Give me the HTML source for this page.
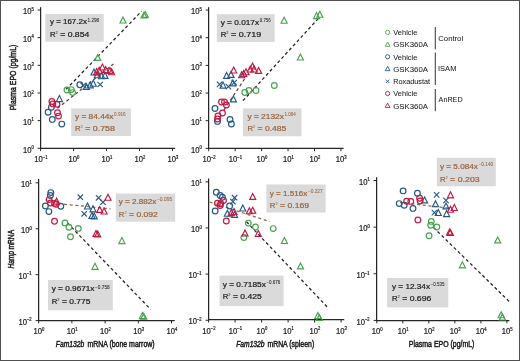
<!DOCTYPE html>
<html><head><meta charset="utf-8"><style>
html,body{margin:0;padding:0;background:#fff;}
svg{display:block;will-change:transform;font-family:"Liberation Sans",sans-serif;}
.t{fill:#1e1e1e;stroke:#1e1e1e;stroke-width:0.22px;}
.b{fill:#9a6440;stroke:#9a6440;stroke-width:0.22px;}
</style></head><body>
<svg width="520" height="361" viewBox="0 0 520 361">
<rect width="520" height="361" fill="#fff"/>
<rect x="0.5" y="0.5" width="519" height="360" fill="none" stroke="#505050" stroke-width="1"/>
<line x1="40.6" y1="7.2" x2="40.6" y2="148.9" stroke="#262626" stroke-width="1.25"/>
<line x1="40.0" y1="148.3" x2="175.2" y2="148.3" stroke="#262626" stroke-width="1.25"/>
<line x1="37.6" y1="148.3" x2="40.6" y2="148.3" stroke="#262626" stroke-width="1.0"/>
<text class="t" transform="translate(33.70,152.50) scale(0.91,1)" text-anchor="end" font-size="8.4">10<tspan font-size="4.6" dy="-3.4">0</tspan></text>
<line x1="37.6" y1="120.64000000000001" x2="40.6" y2="120.64000000000001" stroke="#262626" stroke-width="1.0"/>
<text class="t" transform="translate(33.70,124.84) scale(0.91,1)" text-anchor="end" font-size="8.4">10<tspan font-size="4.6" dy="-3.4">1</tspan></text>
<line x1="37.6" y1="92.98000000000002" x2="40.6" y2="92.98000000000002" stroke="#262626" stroke-width="1.0"/>
<text class="t" transform="translate(33.70,97.18) scale(0.91,1)" text-anchor="end" font-size="8.4">10<tspan font-size="4.6" dy="-3.4">2</tspan></text>
<line x1="37.6" y1="65.32000000000001" x2="40.6" y2="65.32000000000001" stroke="#262626" stroke-width="1.0"/>
<text class="t" transform="translate(33.70,69.52) scale(0.91,1)" text-anchor="end" font-size="8.4">10<tspan font-size="4.6" dy="-3.4">3</tspan></text>
<line x1="37.6" y1="37.66000000000001" x2="40.6" y2="37.66000000000001" stroke="#262626" stroke-width="1.0"/>
<text class="t" transform="translate(33.70,41.86) scale(0.91,1)" text-anchor="end" font-size="8.4">10<tspan font-size="4.6" dy="-3.4">4</tspan></text>
<line x1="37.6" y1="10.0" x2="40.6" y2="10.0" stroke="#262626" stroke-width="1.0"/>
<text class="t" transform="translate(33.70,14.20) scale(0.91,1)" text-anchor="end" font-size="8.4">10<tspan font-size="4.6" dy="-3.4">5</tspan></text>
<line x1="40.6" y1="148.3" x2="40.6" y2="151.10000000000002" stroke="#262626" stroke-width="1.0"/>
<text class="t" transform="translate(40.90,162.20) scale(0.91,1)" text-anchor="middle" font-size="8.4">10<tspan font-size="4.6" dy="-3.4">−1</tspan></text>
<line x1="73.58" y1="148.3" x2="73.58" y2="151.10000000000002" stroke="#262626" stroke-width="1.0"/>
<text class="t" transform="translate(73.88,162.20) scale(0.91,1)" text-anchor="middle" font-size="8.4">10<tspan font-size="4.6" dy="-3.4">0</tspan></text>
<line x1="106.56" y1="148.3" x2="106.56" y2="151.10000000000002" stroke="#262626" stroke-width="1.0"/>
<text class="t" transform="translate(106.86,162.20) scale(0.91,1)" text-anchor="middle" font-size="8.4">10<tspan font-size="4.6" dy="-3.4">1</tspan></text>
<line x1="139.54" y1="148.3" x2="139.54" y2="151.10000000000002" stroke="#262626" stroke-width="1.0"/>
<text class="t" transform="translate(139.84,162.20) scale(0.91,1)" text-anchor="middle" font-size="8.4">10<tspan font-size="4.6" dy="-3.4">2</tspan></text>
<line x1="172.51999999999998" y1="148.3" x2="172.51999999999998" y2="151.10000000000002" stroke="#262626" stroke-width="1.0"/>
<text class="t" transform="translate(172.82,162.20) scale(0.91,1)" text-anchor="middle" font-size="8.4">10<tspan font-size="4.6" dy="-3.4">3</tspan></text>
<line x1="208.6" y1="7.2" x2="208.6" y2="149.0" stroke="#262626" stroke-width="1.25"/>
<line x1="208.0" y1="148.4" x2="343.6" y2="148.4" stroke="#262626" stroke-width="1.25"/>
<line x1="205.6" y1="148.35000000000002" x2="208.6" y2="148.35000000000002" stroke="#262626" stroke-width="1.0"/>
<text class="t" transform="translate(201.70,152.55) scale(0.91,1)" text-anchor="end" font-size="8.4">10<tspan font-size="4.6" dy="-3.4">0</tspan></text>
<line x1="205.6" y1="120.69000000000001" x2="208.6" y2="120.69000000000001" stroke="#262626" stroke-width="1.0"/>
<text class="t" transform="translate(201.70,124.89) scale(0.91,1)" text-anchor="end" font-size="8.4">10<tspan font-size="4.6" dy="-3.4">1</tspan></text>
<line x1="205.6" y1="93.03000000000002" x2="208.6" y2="93.03000000000002" stroke="#262626" stroke-width="1.0"/>
<text class="t" transform="translate(201.70,97.23) scale(0.91,1)" text-anchor="end" font-size="8.4">10<tspan font-size="4.6" dy="-3.4">2</tspan></text>
<line x1="205.6" y1="65.37" x2="208.6" y2="65.37" stroke="#262626" stroke-width="1.0"/>
<text class="t" transform="translate(201.70,69.57) scale(0.91,1)" text-anchor="end" font-size="8.4">10<tspan font-size="4.6" dy="-3.4">3</tspan></text>
<line x1="205.6" y1="37.71000000000001" x2="208.6" y2="37.71000000000001" stroke="#262626" stroke-width="1.0"/>
<text class="t" transform="translate(201.70,41.91) scale(0.91,1)" text-anchor="end" font-size="8.4">10<tspan font-size="4.6" dy="-3.4">4</tspan></text>
<line x1="205.6" y1="10.05" x2="208.6" y2="10.05" stroke="#262626" stroke-width="1.0"/>
<text class="t" transform="translate(201.70,14.25) scale(0.91,1)" text-anchor="end" font-size="8.4">10<tspan font-size="4.6" dy="-3.4">5</tspan></text>
<line x1="208.7" y1="148.4" x2="208.7" y2="151.20000000000002" stroke="#262626" stroke-width="1.0"/>
<text class="t" transform="translate(209.00,162.30) scale(0.91,1)" text-anchor="middle" font-size="8.4">10<tspan font-size="4.6" dy="-3.4">−2</tspan></text>
<line x1="235.14999999999998" y1="148.4" x2="235.14999999999998" y2="151.20000000000002" stroke="#262626" stroke-width="1.0"/>
<text class="t" transform="translate(235.45,162.30) scale(0.91,1)" text-anchor="middle" font-size="8.4">10<tspan font-size="4.6" dy="-3.4">−1</tspan></text>
<line x1="261.59999999999997" y1="148.4" x2="261.59999999999997" y2="151.20000000000002" stroke="#262626" stroke-width="1.0"/>
<text class="t" transform="translate(261.90,162.30) scale(0.91,1)" text-anchor="middle" font-size="8.4">10<tspan font-size="4.6" dy="-3.4">0</tspan></text>
<line x1="288.04999999999995" y1="148.4" x2="288.04999999999995" y2="151.20000000000002" stroke="#262626" stroke-width="1.0"/>
<text class="t" transform="translate(288.35,162.30) scale(0.91,1)" text-anchor="middle" font-size="8.4">10<tspan font-size="4.6" dy="-3.4">1</tspan></text>
<line x1="314.5" y1="148.4" x2="314.5" y2="151.20000000000002" stroke="#262626" stroke-width="1.0"/>
<text class="t" transform="translate(314.80,162.30) scale(0.91,1)" text-anchor="middle" font-size="8.4">10<tspan font-size="4.6" dy="-3.4">2</tspan></text>
<line x1="340.95" y1="148.4" x2="340.95" y2="151.20000000000002" stroke="#262626" stroke-width="1.0"/>
<text class="t" transform="translate(341.25,162.30) scale(0.91,1)" text-anchor="middle" font-size="8.4">10<tspan font-size="4.6" dy="-3.4">3</tspan></text>
<line x1="38.6" y1="178.9" x2="38.6" y2="321.1" stroke="#262626" stroke-width="1.25"/>
<line x1="38.0" y1="320.5" x2="174.7" y2="320.5" stroke="#262626" stroke-width="1.25"/>
<line x1="35.6" y1="320.61" x2="38.6" y2="320.61" stroke="#262626" stroke-width="1.0"/>
<text class="t" transform="translate(31.70,324.81) scale(0.91,1)" text-anchor="end" font-size="8.4">10<tspan font-size="4.6" dy="-3.4">−2</tspan></text>
<line x1="35.6" y1="274.68" x2="38.6" y2="274.68" stroke="#262626" stroke-width="1.0"/>
<text class="t" transform="translate(31.70,278.88) scale(0.91,1)" text-anchor="end" font-size="8.4">10<tspan font-size="4.6" dy="-3.4">−1</tspan></text>
<line x1="35.6" y1="228.75" x2="38.6" y2="228.75" stroke="#262626" stroke-width="1.0"/>
<text class="t" transform="translate(31.70,232.95) scale(0.91,1)" text-anchor="end" font-size="8.4">10<tspan font-size="4.6" dy="-3.4">0</tspan></text>
<line x1="35.6" y1="182.82" x2="38.6" y2="182.82" stroke="#262626" stroke-width="1.0"/>
<text class="t" transform="translate(31.70,187.02) scale(0.91,1)" text-anchor="end" font-size="8.4">10<tspan font-size="4.6" dy="-3.4">1</tspan></text>
<line x1="38.7" y1="320.5" x2="38.7" y2="323.3" stroke="#262626" stroke-width="1.0"/>
<text class="t" transform="translate(39.00,334.40) scale(0.91,1)" text-anchor="middle" font-size="8.4">10<tspan font-size="4.6" dy="-3.4">0</tspan></text>
<line x1="71.9" y1="320.5" x2="71.9" y2="323.3" stroke="#262626" stroke-width="1.0"/>
<text class="t" transform="translate(72.20,334.40) scale(0.91,1)" text-anchor="middle" font-size="8.4">10<tspan font-size="4.6" dy="-3.4">1</tspan></text>
<line x1="105.10000000000001" y1="320.5" x2="105.10000000000001" y2="323.3" stroke="#262626" stroke-width="1.0"/>
<text class="t" transform="translate(105.40,334.40) scale(0.91,1)" text-anchor="middle" font-size="8.4">10<tspan font-size="4.6" dy="-3.4">2</tspan></text>
<line x1="138.3" y1="320.5" x2="138.3" y2="323.3" stroke="#262626" stroke-width="1.0"/>
<text class="t" transform="translate(138.60,334.40) scale(0.91,1)" text-anchor="middle" font-size="8.4">10<tspan font-size="4.6" dy="-3.4">3</tspan></text>
<line x1="171.5" y1="320.5" x2="171.5" y2="323.3" stroke="#262626" stroke-width="1.0"/>
<text class="t" transform="translate(171.80,334.40) scale(0.91,1)" text-anchor="middle" font-size="8.4">10<tspan font-size="4.6" dy="-3.4">4</tspan></text>
<line x1="208.6" y1="178.5" x2="208.6" y2="320.3" stroke="#262626" stroke-width="1.25"/>
<line x1="208.0" y1="319.7" x2="344.2" y2="319.7" stroke="#262626" stroke-width="1.25"/>
<line x1="205.6" y1="320.25" x2="208.6" y2="320.25" stroke="#262626" stroke-width="1.0"/>
<text class="t" transform="translate(201.70,324.45) scale(0.91,1)" text-anchor="end" font-size="8.4">10<tspan font-size="4.6" dy="-3.4">−2</tspan></text>
<line x1="205.6" y1="274.09999999999997" x2="208.6" y2="274.09999999999997" stroke="#262626" stroke-width="1.0"/>
<text class="t" transform="translate(201.70,278.30) scale(0.91,1)" text-anchor="end" font-size="8.4">10<tspan font-size="4.6" dy="-3.4">−1</tspan></text>
<line x1="205.6" y1="227.95" x2="208.6" y2="227.95" stroke="#262626" stroke-width="1.0"/>
<text class="t" transform="translate(201.70,232.15) scale(0.91,1)" text-anchor="end" font-size="8.4">10<tspan font-size="4.6" dy="-3.4">0</tspan></text>
<line x1="205.6" y1="181.79999999999998" x2="208.6" y2="181.79999999999998" stroke="#262626" stroke-width="1.0"/>
<text class="t" transform="translate(201.70,186.00) scale(0.91,1)" text-anchor="end" font-size="8.4">10<tspan font-size="4.6" dy="-3.4">1</tspan></text>
<line x1="208.6" y1="319.7" x2="208.6" y2="322.5" stroke="#262626" stroke-width="1.0"/>
<text class="t" transform="translate(208.90,333.60) scale(0.91,1)" text-anchor="middle" font-size="8.4">10<tspan font-size="4.6" dy="-3.4">−2</tspan></text>
<line x1="235.1" y1="319.7" x2="235.1" y2="322.5" stroke="#262626" stroke-width="1.0"/>
<text class="t" transform="translate(235.40,333.60) scale(0.91,1)" text-anchor="middle" font-size="8.4">10<tspan font-size="4.6" dy="-3.4">−1</tspan></text>
<line x1="261.6" y1="319.7" x2="261.6" y2="322.5" stroke="#262626" stroke-width="1.0"/>
<text class="t" transform="translate(261.90,333.60) scale(0.91,1)" text-anchor="middle" font-size="8.4">10<tspan font-size="4.6" dy="-3.4">0</tspan></text>
<line x1="288.1" y1="319.7" x2="288.1" y2="322.5" stroke="#262626" stroke-width="1.0"/>
<text class="t" transform="translate(288.40,333.60) scale(0.91,1)" text-anchor="middle" font-size="8.4">10<tspan font-size="4.6" dy="-3.4">1</tspan></text>
<line x1="314.6" y1="319.7" x2="314.6" y2="322.5" stroke="#262626" stroke-width="1.0"/>
<text class="t" transform="translate(314.90,333.60) scale(0.91,1)" text-anchor="middle" font-size="8.4">10<tspan font-size="4.6" dy="-3.4">2</tspan></text>
<line x1="341.1" y1="319.7" x2="341.1" y2="322.5" stroke="#262626" stroke-width="1.0"/>
<text class="t" transform="translate(341.40,333.60) scale(0.91,1)" text-anchor="middle" font-size="8.4">10<tspan font-size="4.6" dy="-3.4">3</tspan></text>
<line x1="376.6" y1="177.2" x2="376.6" y2="321.1" stroke="#262626" stroke-width="1.25"/>
<line x1="376.0" y1="320.5" x2="509.4" y2="320.5" stroke="#262626" stroke-width="1.25"/>
<line x1="373.6" y1="320.41" x2="376.6" y2="320.41" stroke="#262626" stroke-width="1.0"/>
<text class="t" transform="translate(369.70,324.61) scale(0.91,1)" text-anchor="end" font-size="8.4">10<tspan font-size="4.6" dy="-3.4">−2</tspan></text>
<line x1="373.6" y1="273.78000000000003" x2="376.6" y2="273.78000000000003" stroke="#262626" stroke-width="1.0"/>
<text class="t" transform="translate(369.70,277.98) scale(0.91,1)" text-anchor="end" font-size="8.4">10<tspan font-size="4.6" dy="-3.4">−1</tspan></text>
<line x1="373.6" y1="227.15" x2="376.6" y2="227.15" stroke="#262626" stroke-width="1.0"/>
<text class="t" transform="translate(369.70,231.35) scale(0.91,1)" text-anchor="end" font-size="8.4">10<tspan font-size="4.6" dy="-3.4">0</tspan></text>
<line x1="373.6" y1="180.52" x2="376.6" y2="180.52" stroke="#262626" stroke-width="1.0"/>
<text class="t" transform="translate(369.70,184.72) scale(0.91,1)" text-anchor="end" font-size="8.4">10<tspan font-size="4.6" dy="-3.4">1</tspan></text>
<line x1="376.8" y1="320.5" x2="376.8" y2="323.3" stroke="#262626" stroke-width="1.0"/>
<text class="t" transform="translate(377.10,334.40) scale(0.91,1)" text-anchor="middle" font-size="8.4">10<tspan font-size="4.6" dy="-3.4">0</tspan></text>
<line x1="402.82" y1="320.5" x2="402.82" y2="323.3" stroke="#262626" stroke-width="1.0"/>
<text class="t" transform="translate(403.12,334.40) scale(0.91,1)" text-anchor="middle" font-size="8.4">10<tspan font-size="4.6" dy="-3.4">1</tspan></text>
<line x1="428.84000000000003" y1="320.5" x2="428.84000000000003" y2="323.3" stroke="#262626" stroke-width="1.0"/>
<text class="t" transform="translate(429.14,334.40) scale(0.91,1)" text-anchor="middle" font-size="8.4">10<tspan font-size="4.6" dy="-3.4">2</tspan></text>
<line x1="454.86" y1="320.5" x2="454.86" y2="323.3" stroke="#262626" stroke-width="1.0"/>
<text class="t" transform="translate(455.16,334.40) scale(0.91,1)" text-anchor="middle" font-size="8.4">10<tspan font-size="4.6" dy="-3.4">3</tspan></text>
<line x1="480.88" y1="320.5" x2="480.88" y2="323.3" stroke="#262626" stroke-width="1.0"/>
<text class="t" transform="translate(481.18,334.40) scale(0.91,1)" text-anchor="middle" font-size="8.4">10<tspan font-size="4.6" dy="-3.4">4</tspan></text>
<line x1="506.9" y1="320.5" x2="506.9" y2="323.3" stroke="#262626" stroke-width="1.0"/>
<text class="t" transform="translate(507.20,334.40) scale(0.91,1)" text-anchor="middle" font-size="8.4">10<tspan font-size="4.6" dy="-3.4">5</tspan></text>
<rect x="45.4" y="14.0" width="58.3" height="27.7" fill="#dadada"/>
<text class="t" x="50" y="24.3" font-size="7.7" textLength="36.9" lengthAdjust="spacingAndGlyphs">y = 167.2x</text>
<text class="t" x="87.5" y="21.7" font-size="4.5" style="stroke-width:0.05px" textLength="11.7" lengthAdjust="spacingAndGlyphs">1.298</text>
<text class="t" x="50" y="37.0" font-size="7.7">R</text>
<text class="t" x="55.6" y="34.0" font-size="3.9" style="stroke-width:0.05px">2</text>
<text class="t" x="60.2" y="37.0" font-size="7.7" textLength="29.1" lengthAdjust="spacingAndGlyphs">= 0.854</text>
<rect x="71.2" y="108.4" width="59.6" height="27.6" fill="#dadada"/>
<text class="b" x="75" y="118.9" font-size="7.7" textLength="38.5" lengthAdjust="spacingAndGlyphs">y = 84.44x</text>
<text class="b" x="114.1" y="116.3" font-size="4.5" style="stroke-width:0.05px" textLength="11.5" lengthAdjust="spacingAndGlyphs">0.916</text>
<text class="b" x="75" y="131.4" font-size="7.7">R</text>
<text class="b" x="80.6" y="128.4" font-size="3.9" style="stroke-width:0.05px">2</text>
<text class="b" x="85.2" y="131.4" font-size="7.7" textLength="29.8" lengthAdjust="spacingAndGlyphs">= 0.758</text>
<rect x="216.8" y="14.2" width="57.8" height="27.7" fill="#dadada"/>
<text class="t" x="220.7" y="24.5" font-size="7.7" textLength="38.4" lengthAdjust="spacingAndGlyphs">y = 0.017x</text>
<text class="t" x="259.7" y="21.9" font-size="4.5" style="stroke-width:0.05px" textLength="11.1" lengthAdjust="spacingAndGlyphs">0.756</text>
<text class="t" x="220.7" y="37.0" font-size="7.7">R</text>
<text class="t" x="226.3" y="34.0" font-size="3.9" style="stroke-width:0.05px">2</text>
<text class="t" x="230.9" y="37.0" font-size="7.7" textLength="30.3" lengthAdjust="spacingAndGlyphs">= 0.719</text>
<rect x="242.9" y="108.4" width="58.6" height="27.9" fill="#dadada"/>
<text class="b" x="247.4" y="118.9" font-size="7.7" textLength="36.5" lengthAdjust="spacingAndGlyphs">y = 2132x</text>
<text class="b" x="284.5" y="116.3" font-size="4.5" style="stroke-width:0.05px" textLength="11.3" lengthAdjust="spacingAndGlyphs">1.084</text>
<text class="b" x="247.4" y="131.4" font-size="7.7">R</text>
<text class="b" x="253.0" y="128.4" font-size="3.9" style="stroke-width:0.05px">2</text>
<text class="b" x="257.6" y="131.4" font-size="7.7" textLength="28.7" lengthAdjust="spacingAndGlyphs">= 0.485</text>
<rect x="115.8" y="193.6" width="59.4" height="28.1" fill="#dadada"/>
<text class="b" x="118.8" y="204.0" font-size="7.7" textLength="37.5" lengthAdjust="spacingAndGlyphs">y = 2.882x</text>
<text class="b" x="156.9" y="201.4" font-size="4.5" style="stroke-width:0.05px" textLength="15.3" lengthAdjust="spacingAndGlyphs">−0.095</text>
<text class="b" x="118.8" y="216.8" font-size="7.7">R</text>
<text class="b" x="124.4" y="213.8" font-size="3.9" style="stroke-width:0.05px">2</text>
<text class="b" x="129.0" y="216.8" font-size="7.7" textLength="28.9" lengthAdjust="spacingAndGlyphs">= 0.092</text>
<rect x="48" y="280" width="64.8" height="30.3" fill="#dadada"/>
<text class="t" x="51.7" y="291.2" font-size="7.7" textLength="42.8" lengthAdjust="spacingAndGlyphs">y = 0.9671x</text>
<text class="t" x="95.1" y="288.6" font-size="4.5" style="stroke-width:0.05px" textLength="14.6" lengthAdjust="spacingAndGlyphs">−0.758</text>
<text class="t" x="51.7" y="303.6" font-size="7.7">R</text>
<text class="t" x="57.3" y="300.6" font-size="3.9" style="stroke-width:0.05px">2</text>
<text class="t" x="61.9" y="303.6" font-size="7.7" textLength="28.5" lengthAdjust="spacingAndGlyphs">= 0.775</text>
<rect x="266.4" y="184.5" width="59.2" height="28.0" fill="#dadada"/>
<text class="b" x="269.8" y="195.6" font-size="7.7" textLength="37.5" lengthAdjust="spacingAndGlyphs">y = 1.516x</text>
<text class="b" x="307.9" y="193.0" font-size="4.5" style="stroke-width:0.05px" textLength="14.7" lengthAdjust="spacingAndGlyphs">−0.227</text>
<text class="b" x="269.8" y="208.3" font-size="7.7">R</text>
<text class="b" x="275.4" y="205.3" font-size="3.9" style="stroke-width:0.05px">2</text>
<text class="b" x="280.0" y="208.3" font-size="7.7" textLength="29.1" lengthAdjust="spacingAndGlyphs">= 0.169</text>
<rect x="219.5" y="275.6" width="64.1" height="30.5" fill="#dadada"/>
<text class="t" x="222.7" y="286.9" font-size="7.7" textLength="43.1" lengthAdjust="spacingAndGlyphs">y = 0.7185x</text>
<text class="t" x="266.4" y="284.3" font-size="4.5" style="stroke-width:0.05px" textLength="14.0" lengthAdjust="spacingAndGlyphs">−0.676</text>
<text class="t" x="222.7" y="299.2" font-size="7.7">R</text>
<text class="t" x="228.3" y="296.2" font-size="3.9" style="stroke-width:0.05px">2</text>
<text class="t" x="232.9" y="299.2" font-size="7.7" textLength="28.8" lengthAdjust="spacingAndGlyphs">= 0.425</text>
<rect x="436.8" y="157.8" width="59.0" height="28.5" fill="#dadada"/>
<text class="b" x="439.9" y="169.0" font-size="7.7" textLength="38.0" lengthAdjust="spacingAndGlyphs">y = 5.084x</text>
<text class="b" x="478.5" y="166.4" font-size="4.5" style="stroke-width:0.05px" textLength="14.7" lengthAdjust="spacingAndGlyphs">−0.140</text>
<text class="b" x="439.9" y="181.6" font-size="7.7">R</text>
<text class="b" x="445.5" y="178.6" font-size="3.9" style="stroke-width:0.05px">2</text>
<text class="b" x="450.1" y="181.6" font-size="7.7" textLength="29.6" lengthAdjust="spacingAndGlyphs">= 0.203</text>
<rect x="387.1" y="278" width="61.2" height="29.4" fill="#dadada"/>
<text class="t" x="392" y="289.0" font-size="7.7" textLength="38.0" lengthAdjust="spacingAndGlyphs">y = 12.34x</text>
<text class="t" x="430.6" y="286.4" font-size="4.5" style="stroke-width:0.05px" textLength="13.8" lengthAdjust="spacingAndGlyphs">−0.535</text>
<text class="t" x="392" y="301.1" font-size="7.7">R</text>
<text class="t" x="397.6" y="298.1" font-size="3.9" style="stroke-width:0.05px">2</text>
<text class="t" x="402.2" y="301.1" font-size="7.7" textLength="29.1" lengthAdjust="spacingAndGlyphs">= 0.696</text>
<line x1="66" y1="89.4" x2="141.6" y2="11.2" stroke="#222" stroke-width="1.25" stroke-dasharray="3.1 2.6"/>
<line x1="57.5" y1="108.2" x2="113.5" y2="64" stroke="#5e4436" stroke-width="1.25" stroke-dasharray="3.1 2.6"/>
<line x1="243" y1="100.7" x2="318.5" y2="18.3" stroke="#222" stroke-width="1.25" stroke-dasharray="3.1 2.6"/>
<line x1="224" y1="110" x2="246.5" y2="76" stroke="#5e4436" stroke-width="1.25" stroke-dasharray="3.1 2.6"/>
<line x1="64" y1="204.2" x2="110.5" y2="208.9" stroke="#8c6a50" stroke-width="1.25" stroke-dasharray="3.1 2.6"/>
<line x1="67.5" y1="223" x2="150.7" y2="309.5" stroke="#222" stroke-width="1.25" stroke-dasharray="3.1 2.6"/>
<line x1="209.5" y1="202" x2="269.5" y2="221.5" stroke="#8c6a50" stroke-width="1.25" stroke-dasharray="3.1 2.6"/>
<line x1="246.5" y1="221.8" x2="327" y2="306.7" stroke="#222" stroke-width="1.25" stroke-dasharray="3.1 2.6"/>
<line x1="400" y1="202.6" x2="452" y2="208.4" stroke="#8c6a50" stroke-width="1.25" stroke-dasharray="3.1 2.6"/>
<line x1="433.5" y1="227.5" x2="510.3" y2="302.6" stroke="#222" stroke-width="1.25" stroke-dasharray="3.1 2.6"/>
<circle cx="67" cy="90" r="2.85" fill="none" stroke="#4aa350" stroke-width="1.2"/>
<circle cx="71.3" cy="89.6" r="2.85" fill="none" stroke="#4aa350" stroke-width="1.2"/>
<circle cx="72.6" cy="92.6" r="2.85" fill="none" stroke="#4aa350" stroke-width="1.2"/>
<path d="M97.70 54.40L100.75 60.40L94.65 60.40Z" fill="none" stroke="#4aa350" stroke-width="1.15" stroke-linejoin="miter"/>
<path d="M123.00 17.00L126.05 23.00L119.95 23.00Z" fill="none" stroke="#4aa350" stroke-width="1.15" stroke-linejoin="miter"/>
<path d="M144.00 12.00L147.05 18.00L140.95 18.00Z" fill="none" stroke="#4aa350" stroke-width="1.15" stroke-linejoin="miter"/>
<path d="M145.30 11.40L148.35 17.40L142.25 17.40Z" fill="none" stroke="#4aa350" stroke-width="1.15" stroke-linejoin="miter"/>
<circle cx="51.4" cy="107.2" r="2.85" fill="none" stroke="#265a84" stroke-width="1.2"/>
<circle cx="48.1" cy="112.3" r="2.85" fill="none" stroke="#265a84" stroke-width="1.2"/>
<circle cx="52.3" cy="119.4" r="2.85" fill="none" stroke="#265a84" stroke-width="1.2"/>
<circle cx="61.8" cy="124.1" r="2.85" fill="none" stroke="#265a84" stroke-width="1.2"/>
<circle cx="79.8" cy="84.7" r="2.85" fill="none" stroke="#265a84" stroke-width="1.2"/>
<path d="M59.40 95.60L62.45 101.60L56.35 101.60Z" fill="none" stroke="#265a84" stroke-width="1.15" stroke-linejoin="miter"/>
<path d="M93.30 80.20L96.35 86.20L90.25 86.20Z" fill="none" stroke="#265a84" stroke-width="1.15" stroke-linejoin="miter"/>
<path d="M90.20 81.90L93.25 87.90L87.15 87.90Z" fill="none" stroke="#265a84" stroke-width="1.15" stroke-linejoin="miter"/>
<path d="M86.40 83.40L89.45 89.40L83.35 89.40Z" fill="none" stroke="#265a84" stroke-width="1.15" stroke-linejoin="miter"/>
<path d="M94.00 69.00L97.05 75.00L90.95 75.00Z" fill="none" stroke="#265a84" stroke-width="1.15" stroke-linejoin="miter"/>
<path d="M97.30 71.70L100.35 77.70L94.25 77.70Z" fill="none" stroke="#265a84" stroke-width="1.15" stroke-linejoin="miter"/>
<path d="M101.60 72.70L104.65 78.70L98.55 78.70Z" fill="none" stroke="#265a84" stroke-width="1.15" stroke-linejoin="miter"/>
<path d="M105.00 72.40L108.05 78.40L101.95 78.40Z" fill="none" stroke="#265a84" stroke-width="1.15" stroke-linejoin="miter"/>
<path d="M97.50 81.80L102.90 87.20M102.90 81.80L97.50 87.20" stroke="#265a84" stroke-width="1.15"/>
<path d="M80.50 82.80L85.90 88.20M85.90 82.80L80.50 88.20" stroke="#265a84" stroke-width="1.15"/>
<circle cx="51.9" cy="101.5" r="2.85" fill="none" stroke="#c21a40" stroke-width="1.2"/>
<circle cx="52.8" cy="103.9" r="2.85" fill="none" stroke="#c21a40" stroke-width="1.2"/>
<circle cx="57" cy="104.3" r="2.85" fill="none" stroke="#c21a40" stroke-width="1.2"/>
<circle cx="57.5" cy="112.8" r="2.85" fill="none" stroke="#c21a40" stroke-width="1.2"/>
<circle cx="58.5" cy="116.1" r="2.85" fill="none" stroke="#c21a40" stroke-width="1.2"/>
<path d="M102.40 64.00L105.45 70.00L99.35 70.00Z" fill="none" stroke="#c21a40" stroke-width="1.15" stroke-linejoin="miter"/>
<path d="M105.60 66.60L108.65 72.60L102.55 72.60Z" fill="none" stroke="#c21a40" stroke-width="1.15" stroke-linejoin="miter"/>
<path d="M109.90 67.40L112.95 73.40L106.85 73.40Z" fill="none" stroke="#c21a40" stroke-width="1.15" stroke-linejoin="miter"/>
<path d="M99.20 67.20L102.25 73.20L96.15 73.20Z" fill="none" stroke="#c21a40" stroke-width="1.15" stroke-linejoin="miter"/>
<path d="M96.70 68.60L99.75 74.60L93.65 74.60Z" fill="none" stroke="#c21a40" stroke-width="1.15" stroke-linejoin="miter"/>
<path d="M111.60 68.70L114.65 74.70L108.55 74.70Z" fill="none" stroke="#c21a40" stroke-width="1.15" stroke-linejoin="miter"/>
<circle cx="244.8" cy="92.5" r="2.85" fill="none" stroke="#4aa350" stroke-width="1.2"/>
<circle cx="249" cy="90.5" r="2.85" fill="none" stroke="#4aa350" stroke-width="1.2"/>
<circle cx="256" cy="90.5" r="2.85" fill="none" stroke="#4aa350" stroke-width="1.2"/>
<circle cx="274.3" cy="85.5" r="2.85" fill="none" stroke="#4aa350" stroke-width="1.2"/>
<path d="M284.10 17.20L287.15 23.20L281.05 23.20Z" fill="none" stroke="#4aa350" stroke-width="1.15" stroke-linejoin="miter"/>
<path d="M316.60 12.60L319.65 18.60L313.55 18.60Z" fill="none" stroke="#4aa350" stroke-width="1.15" stroke-linejoin="miter"/>
<path d="M319.80 11.20L322.85 17.20L316.75 17.20Z" fill="none" stroke="#4aa350" stroke-width="1.15" stroke-linejoin="miter"/>
<path d="M300.40 54.00L303.45 60.00L297.35 60.00Z" fill="none" stroke="#4aa350" stroke-width="1.15" stroke-linejoin="miter"/>
<circle cx="215" cy="108.5" r="2.85" fill="none" stroke="#265a84" stroke-width="1.2"/>
<circle cx="217.5" cy="121.4" r="2.85" fill="none" stroke="#265a84" stroke-width="1.2"/>
<circle cx="230" cy="119.4" r="2.85" fill="none" stroke="#265a84" stroke-width="1.2"/>
<circle cx="231.4" cy="124" r="2.85" fill="none" stroke="#265a84" stroke-width="1.2"/>
<path d="M233.40 95.90L236.45 101.90L230.35 101.90Z" fill="none" stroke="#265a84" stroke-width="1.15" stroke-linejoin="miter"/>
<path d="M226.60 72.40L229.65 78.40L223.55 78.40Z" fill="none" stroke="#265a84" stroke-width="1.15" stroke-linejoin="miter"/>
<path d="M231.00 71.40L234.05 77.40L227.95 77.40Z" fill="none" stroke="#265a84" stroke-width="1.15" stroke-linejoin="miter"/>
<path d="M223.00 82.10L226.05 88.10L219.95 88.10Z" fill="none" stroke="#265a84" stroke-width="1.15" stroke-linejoin="miter"/>
<path d="M232.80 79.90L235.85 85.90L229.75 85.90Z" fill="none" stroke="#265a84" stroke-width="1.15" stroke-linejoin="miter"/>
<path d="M241.70 71.70L244.75 77.70L238.65 77.70Z" fill="none" stroke="#265a84" stroke-width="1.15" stroke-linejoin="miter"/>
<path d="M216.80 81.70L222.20 87.10M222.20 81.70L216.80 87.10" stroke="#265a84" stroke-width="1.15"/>
<path d="M225.70 83.90L231.10 89.30M231.10 83.90L225.70 89.30" stroke="#265a84" stroke-width="1.15"/>
<path d="M231.50 79.90L236.90 85.30M236.90 79.90L231.50 85.30" stroke="#265a84" stroke-width="1.15"/>
<circle cx="221.5" cy="102" r="2.85" fill="none" stroke="#c21a40" stroke-width="1.2"/>
<circle cx="224.5" cy="102" r="2.85" fill="none" stroke="#c21a40" stroke-width="1.2"/>
<circle cx="226.4" cy="105" r="2.85" fill="none" stroke="#c21a40" stroke-width="1.2"/>
<circle cx="222.5" cy="113" r="2.85" fill="none" stroke="#c21a40" stroke-width="1.2"/>
<circle cx="218" cy="116" r="2.85" fill="none" stroke="#c21a40" stroke-width="1.2"/>
<circle cx="217.5" cy="119" r="2.85" fill="none" stroke="#c21a40" stroke-width="1.2"/>
<path d="M233.70 67.00L236.75 73.00L230.65 73.00Z" fill="none" stroke="#c21a40" stroke-width="1.15" stroke-linejoin="miter"/>
<path d="M252.60 63.00L255.65 69.00L249.55 69.00Z" fill="none" stroke="#c21a40" stroke-width="1.15" stroke-linejoin="miter"/>
<path d="M250.30 66.00L253.35 72.00L247.25 72.00Z" fill="none" stroke="#c21a40" stroke-width="1.15" stroke-linejoin="miter"/>
<path d="M254.00 66.00L257.05 72.00L250.95 72.00Z" fill="none" stroke="#c21a40" stroke-width="1.15" stroke-linejoin="miter"/>
<path d="M258.60 67.40L261.65 73.40L255.55 73.40Z" fill="none" stroke="#c21a40" stroke-width="1.15" stroke-linejoin="miter"/>
<path d="M246.00 68.70L249.05 74.70L242.95 74.70Z" fill="none" stroke="#c21a40" stroke-width="1.15" stroke-linejoin="miter"/>
<path d="M243.70 70.40L246.75 76.40L240.65 76.40Z" fill="none" stroke="#c21a40" stroke-width="1.15" stroke-linejoin="miter"/>
<circle cx="65" cy="222.9" r="2.85" fill="none" stroke="#4aa350" stroke-width="1.2"/>
<circle cx="68.9" cy="227.3" r="2.85" fill="none" stroke="#4aa350" stroke-width="1.2"/>
<circle cx="78.3" cy="228.4" r="2.85" fill="none" stroke="#4aa350" stroke-width="1.2"/>
<circle cx="70.5" cy="236.7" r="2.85" fill="none" stroke="#4aa350" stroke-width="1.2"/>
<path d="M121.90 237.60L124.95 243.60L118.85 243.60Z" fill="none" stroke="#4aa350" stroke-width="1.15" stroke-linejoin="miter"/>
<path d="M95.00 263.30L98.05 269.30L91.95 269.30Z" fill="none" stroke="#4aa350" stroke-width="1.15" stroke-linejoin="miter"/>
<path d="M142.40 312.60L145.45 318.60L139.35 318.60Z" fill="none" stroke="#4aa350" stroke-width="1.15" stroke-linejoin="miter"/>
<path d="M143.70 313.20L146.75 319.20L140.65 319.20Z" fill="none" stroke="#4aa350" stroke-width="1.15" stroke-linejoin="miter"/>
<circle cx="50.8" cy="192.6" r="2.85" fill="none" stroke="#265a84" stroke-width="1.2"/>
<circle cx="50.4" cy="195.5" r="2.85" fill="none" stroke="#265a84" stroke-width="1.2"/>
<circle cx="45.4" cy="205.9" r="2.85" fill="none" stroke="#265a84" stroke-width="1.2"/>
<circle cx="48.9" cy="211.6" r="2.85" fill="none" stroke="#265a84" stroke-width="1.2"/>
<circle cx="60.8" cy="206.3" r="2.85" fill="none" stroke="#265a84" stroke-width="1.2"/>
<path d="M87.50 203.00L90.55 209.00L84.45 209.00Z" fill="none" stroke="#265a84" stroke-width="1.15" stroke-linejoin="miter"/>
<path d="M93.00 205.80L96.05 211.80L89.95 211.80Z" fill="none" stroke="#265a84" stroke-width="1.15" stroke-linejoin="miter"/>
<path d="M92.00 212.40L95.05 218.40L88.95 218.40Z" fill="none" stroke="#265a84" stroke-width="1.15" stroke-linejoin="miter"/>
<path d="M94.20 213.00L97.25 219.00L91.15 219.00Z" fill="none" stroke="#265a84" stroke-width="1.15" stroke-linejoin="miter"/>
<path d="M77.60 194.50L83.00 199.90M83.00 194.50L77.60 199.90" stroke="#265a84" stroke-width="1.15"/>
<path d="M95.90 195.10L101.30 200.50M101.30 195.10L95.90 200.50" stroke="#265a84" stroke-width="1.15"/>
<path d="M100.30 199.50L105.70 204.90M105.70 199.50L100.30 204.90" stroke="#265a84" stroke-width="1.15"/>
<path d="M81.50 211.10L86.90 216.50M86.90 211.10L81.50 216.50" stroke="#265a84" stroke-width="1.15"/>
<circle cx="49.1" cy="199.6" r="2.85" fill="none" stroke="#c21a40" stroke-width="1.2"/>
<circle cx="50.4" cy="203" r="2.85" fill="none" stroke="#c21a40" stroke-width="1.2"/>
<circle cx="54.5" cy="203.4" r="2.85" fill="none" stroke="#c21a40" stroke-width="1.2"/>
<circle cx="56.2" cy="204.2" r="2.85" fill="none" stroke="#c21a40" stroke-width="1.2"/>
<circle cx="54.5" cy="221.2" r="2.85" fill="none" stroke="#c21a40" stroke-width="1.2"/>
<path d="M56.60 198.10L59.65 204.10L53.55 204.10Z" fill="none" stroke="#c21a40" stroke-width="1.15" stroke-linejoin="miter"/>
<path d="M108.00 194.20L111.05 200.20L104.95 200.20Z" fill="none" stroke="#c21a40" stroke-width="1.15" stroke-linejoin="miter"/>
<path d="M99.70 206.40L102.75 212.40L96.65 212.40Z" fill="none" stroke="#c21a40" stroke-width="1.15" stroke-linejoin="miter"/>
<path d="M104.10 208.00L107.15 214.00L101.05 214.00Z" fill="none" stroke="#c21a40" stroke-width="1.15" stroke-linejoin="miter"/>
<path d="M96.00 230.40L99.05 236.40L92.95 236.40Z" fill="none" stroke="#c21a40" stroke-width="1.15" stroke-linejoin="miter"/>
<path d="M97.70 230.90L100.75 236.90L94.65 236.90Z" fill="none" stroke="#c21a40" stroke-width="1.15" stroke-linejoin="miter"/>
<circle cx="248.3" cy="223.1" r="2.85" fill="none" stroke="#4aa350" stroke-width="1.2"/>
<circle cx="255.5" cy="227" r="2.85" fill="none" stroke="#4aa350" stroke-width="1.2"/>
<circle cx="273.2" cy="228.6" r="2.85" fill="none" stroke="#4aa350" stroke-width="1.2"/>
<circle cx="243.9" cy="237.5" r="2.85" fill="none" stroke="#4aa350" stroke-width="1.2"/>
<path d="M284.40 237.50L287.45 243.50L281.35 243.50Z" fill="none" stroke="#4aa350" stroke-width="1.15" stroke-linejoin="miter"/>
<path d="M300.50 262.90L303.55 268.90L297.45 268.90Z" fill="none" stroke="#4aa350" stroke-width="1.15" stroke-linejoin="miter"/>
<path d="M317.90 312.50L320.95 318.50L314.85 318.50Z" fill="none" stroke="#4aa350" stroke-width="1.15" stroke-linejoin="miter"/>
<path d="M319.40 314.50L322.45 320.50L316.35 320.50Z" fill="none" stroke="#4aa350" stroke-width="1.15" stroke-linejoin="miter"/>
<circle cx="216.3" cy="192.2" r="2.85" fill="none" stroke="#265a84" stroke-width="1.2"/>
<circle cx="220.2" cy="195.5" r="2.85" fill="none" stroke="#265a84" stroke-width="1.2"/>
<circle cx="222.4" cy="197.2" r="2.85" fill="none" stroke="#265a84" stroke-width="1.2"/>
<circle cx="215.2" cy="211" r="2.85" fill="none" stroke="#265a84" stroke-width="1.2"/>
<circle cx="229.6" cy="206" r="2.85" fill="none" stroke="#265a84" stroke-width="1.2"/>
<path d="M227.40 210.20L230.45 216.20L224.35 216.20Z" fill="none" stroke="#265a84" stroke-width="1.15" stroke-linejoin="miter"/>
<path d="M234.60 211.40L237.65 217.40L231.55 217.40Z" fill="none" stroke="#265a84" stroke-width="1.15" stroke-linejoin="miter"/>
<path d="M242.80 205.00L245.85 211.00L239.75 211.00Z" fill="none" stroke="#265a84" stroke-width="1.15" stroke-linejoin="miter"/>
<path d="M231.90 195.00L237.30 200.40M237.30 195.00L231.90 200.40" stroke="#265a84" stroke-width="1.15"/>
<path d="M230.20 198.90L235.60 204.30M235.60 198.90L230.20 204.30" stroke="#265a84" stroke-width="1.15"/>
<circle cx="217.4" cy="203.3" r="2.85" fill="none" stroke="#c21a40" stroke-width="1.2"/>
<circle cx="220.7" cy="203.8" r="2.85" fill="none" stroke="#c21a40" stroke-width="1.2"/>
<circle cx="223.5" cy="200.5" r="2.85" fill="none" stroke="#c21a40" stroke-width="1.2"/>
<circle cx="220.2" cy="205.5" r="2.85" fill="none" stroke="#c21a40" stroke-width="1.2"/>
<circle cx="226.3" cy="221" r="2.85" fill="none" stroke="#c21a40" stroke-width="1.2"/>
<path d="M231.30 209.60L234.35 215.60L228.25 215.60Z" fill="none" stroke="#c21a40" stroke-width="1.15" stroke-linejoin="miter"/>
<path d="M234.00 208.50L237.05 214.50L230.95 214.50Z" fill="none" stroke="#c21a40" stroke-width="1.15" stroke-linejoin="miter"/>
<path d="M252.70 193.40L255.75 199.40L249.65 199.40Z" fill="none" stroke="#c21a40" stroke-width="1.15" stroke-linejoin="miter"/>
<path d="M249.40 207.70L252.45 213.70L246.35 213.70Z" fill="none" stroke="#c21a40" stroke-width="1.15" stroke-linejoin="miter"/>
<path d="M252.70 207.20L255.75 213.20L249.65 213.20Z" fill="none" stroke="#c21a40" stroke-width="1.15" stroke-linejoin="miter"/>
<path d="M245.00 230.00L248.05 236.00L241.95 236.00Z" fill="none" stroke="#c21a40" stroke-width="1.15" stroke-linejoin="miter"/>
<path d="M258.30 230.50L261.35 236.50L255.25 236.50Z" fill="none" stroke="#c21a40" stroke-width="1.15" stroke-linejoin="miter"/>
<circle cx="431.3" cy="221.4" r="2.85" fill="none" stroke="#4aa350" stroke-width="1.2"/>
<circle cx="430.7" cy="225.3" r="2.85" fill="none" stroke="#4aa350" stroke-width="1.2"/>
<circle cx="436.8" cy="227" r="2.85" fill="none" stroke="#4aa350" stroke-width="1.2"/>
<circle cx="429.1" cy="235.8" r="2.85" fill="none" stroke="#4aa350" stroke-width="1.2"/>
<path d="M462.40 261.80L465.45 267.80L459.35 267.80Z" fill="none" stroke="#4aa350" stroke-width="1.15" stroke-linejoin="miter"/>
<path d="M497.70 236.90L500.75 242.90L494.65 242.90Z" fill="none" stroke="#4aa350" stroke-width="1.15" stroke-linejoin="miter"/>
<path d="M501.20 311.70L504.25 317.70L498.15 317.70Z" fill="none" stroke="#4aa350" stroke-width="1.15" stroke-linejoin="miter"/>
<path d="M502.40 314.00L505.45 320.00L499.35 320.00Z" fill="none" stroke="#4aa350" stroke-width="1.15" stroke-linejoin="miter"/>
<circle cx="403.1" cy="190.9" r="2.85" fill="none" stroke="#265a84" stroke-width="1.2"/>
<circle cx="417.4" cy="193.3" r="2.85" fill="none" stroke="#265a84" stroke-width="1.2"/>
<circle cx="399.2" cy="203.6" r="2.85" fill="none" stroke="#265a84" stroke-width="1.2"/>
<circle cx="404.2" cy="205.3" r="2.85" fill="none" stroke="#265a84" stroke-width="1.2"/>
<circle cx="413" cy="208.4" r="2.85" fill="none" stroke="#265a84" stroke-width="1.2"/>
<path d="M424.60 196.90L427.65 202.90L421.55 202.90Z" fill="none" stroke="#265a84" stroke-width="1.15" stroke-linejoin="miter"/>
<path d="M435.50 200.70L438.55 206.70L432.45 206.70Z" fill="none" stroke="#265a84" stroke-width="1.15" stroke-linejoin="miter"/>
<path d="M446.00 202.90L449.05 208.90L442.95 208.90Z" fill="none" stroke="#265a84" stroke-width="1.15" stroke-linejoin="miter"/>
<path d="M438.30 209.50L441.35 215.50L435.25 215.50Z" fill="none" stroke="#265a84" stroke-width="1.15" stroke-linejoin="miter"/>
<path d="M446.60 210.60L449.65 216.60L443.55 216.60Z" fill="none" stroke="#265a84" stroke-width="1.15" stroke-linejoin="miter"/>
<path d="M433.90 192.20L439.30 197.60M439.30 192.20L433.90 197.60" stroke="#265a84" stroke-width="1.15"/>
<path d="M443.30 197.70L448.70 203.10M448.70 197.70L443.30 203.10" stroke="#265a84" stroke-width="1.15"/>
<path d="M431.70 209.90L437.10 215.30M437.10 209.90L431.70 215.30" stroke="#265a84" stroke-width="1.15"/>
<circle cx="406.6" cy="201.2" r="2.85" fill="none" stroke="#c21a40" stroke-width="1.2"/>
<circle cx="410.8" cy="201.4" r="2.85" fill="none" stroke="#c21a40" stroke-width="1.2"/>
<circle cx="419.6" cy="198.3" r="2.85" fill="none" stroke="#c21a40" stroke-width="1.2"/>
<circle cx="420.1" cy="201" r="2.85" fill="none" stroke="#c21a40" stroke-width="1.2"/>
<circle cx="417.9" cy="219.9" r="2.85" fill="none" stroke="#c21a40" stroke-width="1.2"/>
<path d="M450.50 191.80L453.55 197.80L447.45 197.80Z" fill="none" stroke="#c21a40" stroke-width="1.15" stroke-linejoin="miter"/>
<path d="M450.50 206.20L453.55 212.20L447.45 212.20Z" fill="none" stroke="#c21a40" stroke-width="1.15" stroke-linejoin="miter"/>
<path d="M454.30 204.50L457.35 210.50L451.25 210.50Z" fill="none" stroke="#c21a40" stroke-width="1.15" stroke-linejoin="miter"/>
<path d="M449.60 228.90L452.65 234.90L446.55 234.90Z" fill="none" stroke="#c21a40" stroke-width="1.15" stroke-linejoin="miter"/>
<path d="M450.40 229.40L453.45 235.40L447.35 235.40Z" fill="none" stroke="#c21a40" stroke-width="1.15" stroke-linejoin="miter"/>
<circle cx="387.6" cy="32.400000000000006" r="2.1" fill="none" stroke="#4aa350" stroke-width="0.9"/>
<text class="t" x="393.3" y="35.2" font-size="7.5" style="stroke-width:0.05px" textLength="24.0" lengthAdjust="spacingAndGlyphs">Vehicle</text>
<path d="M387.60 42.08L390.00 46.28L385.20 46.28Z" fill="none" stroke="#4aa350" stroke-width="0.9" stroke-linejoin="miter"/>
<text class="t" x="393.3" y="47.4" font-size="7.5" style="stroke-width:0.05px" textLength="34.6" lengthAdjust="spacingAndGlyphs">GSK360A</text>
<circle cx="387.6" cy="56.800000000000004" r="2.1" fill="none" stroke="#265a84" stroke-width="0.9"/>
<text class="t" x="393.3" y="59.6" font-size="7.5" style="stroke-width:0.05px" textLength="24.0" lengthAdjust="spacingAndGlyphs">Vehicle</text>
<path d="M387.60 66.48L390.00 70.68L385.20 70.68Z" fill="none" stroke="#265a84" stroke-width="0.9" stroke-linejoin="miter"/>
<text class="t" x="393.3" y="71.8" font-size="7.5" style="stroke-width:0.05px" textLength="34.6" lengthAdjust="spacingAndGlyphs">GSK360A</text>
<path d="M385.90 79.60L389.30 83.00M389.30 79.60L385.90 83.00" stroke="#265a84" stroke-width="0.9"/>
<text class="t" x="393.3" y="84.1" font-size="7.5" style="stroke-width:0.05px" textLength="36.8" lengthAdjust="spacingAndGlyphs">Roxadustat</text>
<circle cx="387.6" cy="93.5" r="2.1" fill="none" stroke="#c21a40" stroke-width="0.9"/>
<text class="t" x="393.3" y="96.3" font-size="7.5" style="stroke-width:0.05px" textLength="24.0" lengthAdjust="spacingAndGlyphs">Vehicle</text>
<path d="M387.60 103.18L390.00 107.38L385.20 107.38Z" fill="none" stroke="#c21a40" stroke-width="0.9" stroke-linejoin="miter"/>
<text class="t" x="393.3" y="108.5" font-size="7.5" style="stroke-width:0.05px" textLength="34.6" lengthAdjust="spacingAndGlyphs">GSK360A</text>
<line x1="435.3" y1="27" x2="435.3" y2="49.2" stroke="#444" stroke-width="1.1"/>
<line x1="435.3" y1="52.4" x2="435.3" y2="85" stroke="#444" stroke-width="1.1"/>
<line x1="435.3" y1="89" x2="435.3" y2="111.3" stroke="#444" stroke-width="1.1"/>
<text class="t" x="438.3" y="40.5" font-size="7.5" style="stroke-width:0.05px" textLength="24.8" lengthAdjust="spacingAndGlyphs">Control</text>
<text class="t" x="438.0" y="71.4" font-size="7.5" style="stroke-width:0.05px" textLength="18.4" lengthAdjust="spacingAndGlyphs">ISAM</text>
<text class="t" x="438.6" y="102.4" font-size="7.5" style="stroke-width:0.05px" textLength="24.0" lengthAdjust="spacingAndGlyphs">AnRED</text>
<text class="t" font-style="italic" x="55.8" y="347.2" font-size="9.0" style="stroke-width:0.5px" textLength="28.4" lengthAdjust="spacingAndGlyphs">Fam132b</text>
<text class="t" x="87.4" y="347.2" font-size="9.0" style="stroke-width:0.5px" textLength="67.2" lengthAdjust="spacingAndGlyphs">mRNA (bone marrow)</text>
<text class="t" font-style="italic" x="236.2" y="347.2" font-size="9.0" style="stroke-width:0.5px" textLength="28.4" lengthAdjust="spacingAndGlyphs">Fam132b</text>
<text class="t" x="267.4" y="347.2" font-size="9.0" style="stroke-width:0.5px" textLength="46.8" lengthAdjust="spacingAndGlyphs">mRNA (spleen)</text>
<text class="t" x="408.8" y="347.2" font-size="9.0" style="stroke-width:0.5px" textLength="65.6" lengthAdjust="spacingAndGlyphs">Plasma EPO (pg/mL)</text>
<g transform="translate(15.8,109.6) rotate(-90)">
<text class="t" x="-0.7" y="0" font-size="9.4" style="stroke-width:0.5px" textLength="65.6" lengthAdjust="spacingAndGlyphs">Plasma EPO (pg/mL)</text>
</g>
<g transform="translate(14.1,267.8) rotate(-90)">
<text class="t" font-style="italic" x="-0.7" y="0" font-size="9.2" style="stroke-width:0.5px" textLength="17.4" lengthAdjust="spacingAndGlyphs">Hamp</text>
<text class="t" x="18.2" y="0" font-size="9.2" style="stroke-width:0.5px" textLength="19.8" lengthAdjust="spacingAndGlyphs">mRNA</text>
</g>
</svg>
</body></html>
